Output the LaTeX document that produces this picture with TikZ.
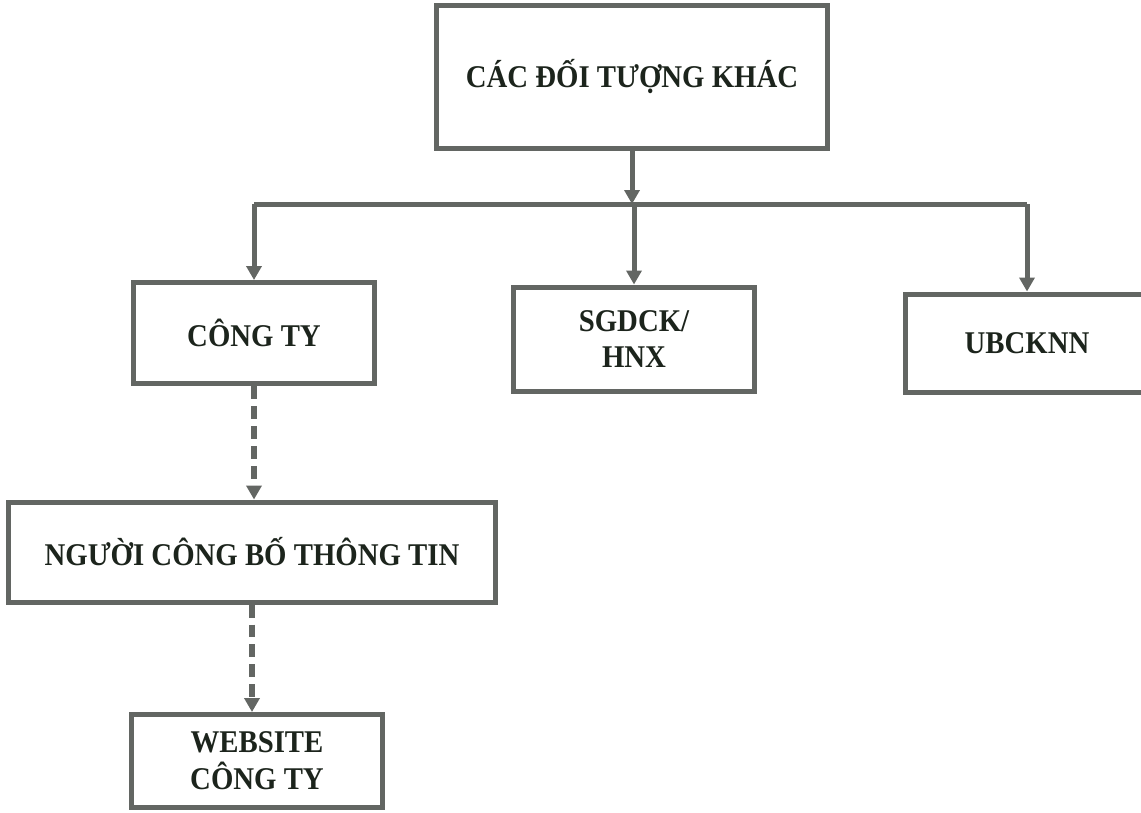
\documentclass[tikz,border=0pt]{standalone}
\usepackage{fontspec}
\setmainfont[FakeStretch=0.91]{Liberation Serif}
\usetikzlibrary{arrows.meta}

\begin{document}
\begin{tikzpicture}[x=0.02cm, y=-0.02cm]
    % Define custom colors
    \definecolor{linegray}{HTML}{636663}
    \definecolor{textdark}{HTML}{1C241C}

    \tikzset{
        box/.style={draw=linegray, line width=0.1cm, fill=white, align=center,
            text=textdark, font=\fontsize{18}{21}\selectfont\bfseries, inner sep=0pt},
        link/.style={draw=linegray, line width=0.1cm},
        arr/.style={link, -{Triangle[width=0.3cm, length=0.28cm]}},
        dasharr/.style={arr, line width=0.12cm, dash pattern=on 0.26cm off 0.14cm}
    }

    \useasboundingbox (0,0) rectangle (1141,812);

    % Boxes
    \node[box, minimum width=7.82cm, minimum height=2.86cm] (khac) at (632,77) {CÁC ĐỐI TƯỢNG KHÁC};
    \node[box, minimum width=4.82cm, minimum height=2.02cm] (congty) at (254,333) {CÔNG TY};
    \node[box, minimum width=4.84cm, minimum height=2.08cm] (sgdck) at (634,339) {SGDCK/\\HNX};
    \node[box, minimum width=4.88cm, minimum height=1.96cm] (ubcknn) at (1027,343) {UBCKNN};
    \node[box, minimum width=9.76cm, minimum height=2.0cm] (nguoi) at (252,552) {NGƯỜI CÔNG BỐ THÔNG TIN};
    \node[box, minimum width=5.02cm, minimum height=1.86cm] (website) at (257,761) {WEBSITE\\CÔNG TY};

    % Branch bar
    \coordinate (bar) at (632,204);
    \draw[arr] (khac.south) -- (bar);
    \draw[link] (congty.north |- bar) -- (ubcknn.north |- bar);
    \draw[arr] (congty.north |- bar) -- (congty.north);
    \draw[arr] (sgdck.north |- bar) -- (sgdck.north);
    \draw[arr] (ubcknn.north |- bar) -- (ubcknn.north);

    % Dashed flow
    \draw[dasharr] (congty.south) -- (congty.south |- nguoi.north);
    \draw[dasharr] (nguoi.south) -- (nguoi.south |- website.north);

\end{tikzpicture}
\end{document}
